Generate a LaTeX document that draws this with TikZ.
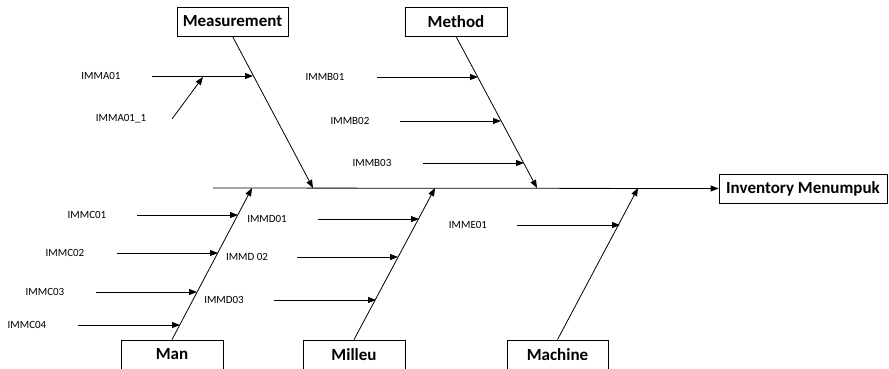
\documentclass[tikz,border=0pt]{standalone}
\usepackage{fontspec}
\setmainfont{Carlito}
\usetikzlibrary{arrows.meta}
\begin{document}
\begin{tikzpicture}[x=1pt,y=-1pt,
  catbox/.style={draw, line width=0.8pt, inner sep=0pt, minimum height=29pt,
                 font=\fontsize{17}{17}\selectfont\bfseries},
  cause/.style={font=\fontsize{11}{11}\selectfont, inner sep=0pt},
  bone/.style={line width=0.8pt, -{Triangle[length=8pt,width=6pt]}},
  twig/.style={line width=0.8pt, -{Triangle[length=8pt,width=6pt]}}]
\useasboundingbox (0,0) rectangle (889,368);
\begin{scope}
\clip (0,0) rectangle (889,368);

% category boxes and effect
\node[catbox, minimum width=111pt] (meas)   at (232.5,21.5)  {Measurement};
\node[catbox, minimum width=102pt] (method) at (456,21.5)    {Method};
\node[catbox, minimum width=168pt] (effect) at (803,188.5)   {Inventory Menumpuk};
\node[catbox, minimum width=102pt] (man)    at (172,354.5)   {Man};
\node[catbox, minimum width=102pt] (milleu) at (354,354.5)   {Milleu};
\node[catbox, minimum width=101pt] (mach)   at (557.5,354.5) {Machine};

% spine
\coordinate (tail) at (213,188);
\draw[bone] (tail) -- (effect.west);

% main bones meeting the spine
\coordinate (jMeas)   at (313,188);
\coordinate (jMethod) at (537,188);
\coordinate (jMan)    at (252,188);
\coordinate (jMilleu) at (435,188);
\coordinate (jMach)   at (638,188);
\draw[bone] (meas.south)   -- (jMeas);
\draw[bone] (method.south) -- (jMethod);
\draw[bone] (man.north)    -- (jMan);
\draw[bone] (milleu.north) -- (jMilleu);
\draw[bone] (mach.north)   -- (jMach);

% cause labels
\node[cause] (la1)  at (101,76)  {IMMA01};
\node[cause] (la11) at (121,119) {IMMA01\_1};
\node[cause] (lb1)  at (325,77)  {IMMB01};
\node[cause] (lb2)  at (350,121) {IMMB02};
\node[cause] (lb3)  at (372,163) {IMMB03};
\node[cause] (lc1)  at (87,215)  {IMMC01};
\node[cause] (lc2)  at (65,253)  {IMMC02};
\node[cause] (lc3)  at (45,292)  {IMMC03};
\node[cause] (lc4)  at (27,325)  {IMMC04};
\node[cause] (ld1)  at (267,219) {IMMD01};
\node[cause] (ld2)  at (247,257) {IMMD 02};
\node[cause] (ld3)  at (224,300) {IMMD03};
\node[cause] (le1)  at (468,225) {IMME01};

% twig start and end points
\coordinate (sa1)  at (152,76);  \coordinate (ta1)  at (253,76);
\coordinate (sa11) at (172,119); \coordinate (ta11) at (203,77);
\coordinate (sb1)  at (377,77);  \coordinate (tb1)  at (478,77);
\coordinate (sb2)  at (400,121); \coordinate (tb2)  at (501,121);
\coordinate (sb3)  at (423,163); \coordinate (tb3)  at (524,163);
\coordinate (sc1)  at (137,215); \coordinate (tc1)  at (238,215);
\coordinate (sc2)  at (117,253); \coordinate (tc2)  at (218,253);
\coordinate (sc3)  at (96,292);  \coordinate (tc3)  at (197,292);
\coordinate (sc4)  at (78,325);  \coordinate (tc4)  at (180,325);
\coordinate (sd1)  at (318,219); \coordinate (td1)  at (419,219);
\coordinate (sd2)  at (297,257); \coordinate (td2)  at (398,257);
\coordinate (sd3)  at (274,300); \coordinate (td3)  at (376,300);
\coordinate (se1)  at (517,225); \coordinate (te1)  at (620,225);

% twigs
\foreach \p in {a1,a11,b1,b2,b3,c1,c2,c3,c4,d1,d2,d3,e1}
  \draw[twig] (s\p) -- (t\p);
\end{scope}
\end{tikzpicture}
\end{document}
